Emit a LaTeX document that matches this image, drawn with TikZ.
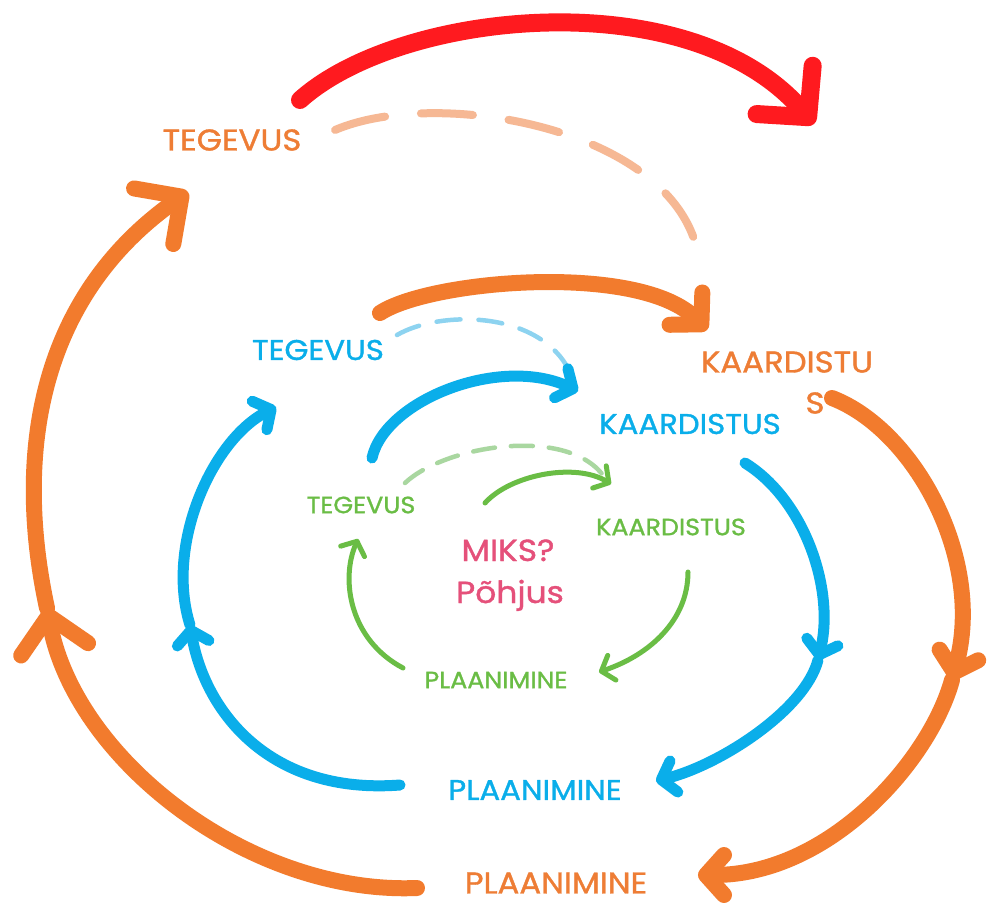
\documentclass[tikz,border=0pt]{standalone}
\usepackage{fontspec}
\setmainfont{Poppins}[FakeStretch=1.08,FakeBold=1.2]
\usetikzlibrary{arrows.meta}
\definecolor{cOr}{HTML}{F27B2D}
\definecolor{cOrT}{HTML}{EE7D35}
\definecolor{cOrL}{HTML}{F6B894}
\definecolor{cRed}{HTML}{FF1A1F}
\definecolor{cBl}{HTML}{0AAEEA}
\definecolor{cBlL}{HTML}{8DD3F0}
\definecolor{cGr}{HTML}{6ABD45}
\definecolor{cGrL}{HTML}{A9D7A0}
\definecolor{cPk}{HTML}{E5507A}
\begin{document}
\begin{tikzpicture}[x=1pt,y=-1pt,line cap=round,line join=round,
  lblOr/.style={text=cOrT,font=\fontsize{30}{30}\selectfont,inner sep=0pt},
  lblBl/.style={text=cBl,font=\fontsize{28.5}{28.5}\selectfont,inner sep=0pt},
  lblGr/.style={text=cGr,font=\fontsize{23.5}{23.5}\selectfont,inner sep=0pt},
  lblPk/.style={text=cPk,font=\fontsize{30.5}{30.5}\selectfont,inner sep=0pt,anchor=base},
  redarc/.style={draw=cRed,line width=18pt,-{Straight Barb[length=36pt,width=74pt,round]}},
  orarc/.style={draw=cOr,line width=16pt},
  orbig/.style={-{Straight Barb[length=34pt,width=68pt,round]}},
  ormid/.style={-{Straight Barb[length=22pt,width=46pt,round]}},
  orsmall/.style={-{Straight Barb[length=18pt,width=40pt,round]}},
  ordash/.style={draw=cOrL,line width=8pt,dash pattern=on 52pt off 36pt},
  blarc/.style={draw=cBl,line width=11pt},
  bltip/.style={-{Straight Barb[length=13pt,width=32pt,round]}},
  bldash/.style={draw=cBlL,line width=4.5pt,dash pattern=on 24pt off 18pt},
  grarc/.style={draw=cGr,line width=5pt},
  grtip/.style={-{Straight Barb[length=11pt,width=26pt,round]}},
  grdash/.style={draw=cGrL,line width=4.5pt,dash pattern=on 22pt off 16pt}]
\useasboundingbox (0,0) rectangle (1005,907);
\fill[white] (0,0) rectangle (1005,907);

% labels
\node[lblOr] (oT) at (232,140) {TEGEVUS};
\node[lblOr] (oK) at (787,362) {KAARDISTU};
\node[lblOr] (oKs) at (815,403) {S};
\node[lblOr] (oP) at (556,883) {PLAANIMINE};
\node[lblBl] (bT) at (318,350) {TEGEVUS};
\node[lblBl] (bK) at (690,424) {KAARDISTUS};
\node[lblBl] (bP) at (535,790) {PLAANIMINE};
\node[lblGr] (gT) at (361,505) {TEGEVUS};
\node[lblGr] (gK) at (671,527) {KAARDISTUS};
\node[lblGr] (gP) at (496,680) {PLAANIMINE};
\node[lblPk] (m1) at (508,561) {MIKS?};
\node[lblPk] (m2) at (510,603) {Põhjus};

% red top arc
\coordinate (r1) at (300,100); \coordinate (r2) at (814,124);
\draw[redarc] (r1) .. controls (400,10) and (690,-20) .. (r2);

% orange dashed
\coordinate (od1) at (335,130); \coordinate (od2) at (700,268);
\draw[ordash] (od1) .. controls (440,85) and (690,130) .. (od2);

% orange middle arc
\coordinate (om1) at (380,313); \coordinate (om2) at (707,330);
\draw[orarc,ormid] (om1) .. controls (430,280) and (640,262) .. (om2);

% orange right arc
\coordinate (or1) at (832,398); \coordinate (orc) at (952,680); \coordinate (or2) at (698,875);
\draw[orarc,orsmall] (or1) .. controls (915,430) and (985,560) .. (orc);
\draw[orarc,orsmall] (orc) .. controls (930,760) and (830,875) .. (or2);

% orange left arc
\coordinate (ol1) at (417,888); \coordinate (olc) at (47,608); \coordinate (ol2) at (188,192);
\draw[orarc,orbig] (ol1) .. controls (250,895) and (75,760) .. (olc);
\draw[orarc,orbig] (olc) .. controls (15,460) and (35,300) .. (ol2);

% blue dashed
\coordinate (bd1) at (397,335); \coordinate (bd2) at (570,372);
\draw[bldash] (bd1) .. controls (440,310) and (540,310) .. (bd2);

% blue top arc
\coordinate (bt1) at (372,458); \coordinate (bt2) at (578,391);
\draw[blarc,bltip] (bt1) .. controls (385,400) and (500,355) .. (bt2);

% blue right arc
\coordinate (br1) at (745,463); \coordinate (brc) at (818,660); \coordinate (br2) at (656,781);
\draw[blarc,bltip] (br1) .. controls (805,500) and (835,590) .. (brc);
\draw[blarc,bltip] (brc) .. controls (805,710) and (720,765) .. (br2);

% blue left arc
\coordinate (bl1) at (400,785); \coordinate (blc) at (190,625); \coordinate (bl2) at (276,407);
\draw[blarc,bltip] (bl1) .. controls (270,795) and (205,712) .. (blc);
\draw[blarc,bltip] (blc) .. controls (165,545) and (212,440) .. (bl2);

% green dashed
\coordinate (gd1) at (405,483); \coordinate (gd2) at (605,478);
\draw[grdash] (gd1) .. controls (445,445) and (570,425) .. (gd2);

% green top arc
\coordinate (gt1) at (485,503); \coordinate (gt2) at (611,484);
\draw[grarc,grtip] (gt1) .. controls (510,475) and (575,462) .. (gt2);

% green left arc
\coordinate (gl1) at (403,668); \coordinate (gl2) at (358,539);
\draw[grarc,grtip] (gl1) .. controls (350,640) and (340,580) .. (gl2);

% green right arc
\coordinate (gr1) at (688,572); \coordinate (gr2) at (599,672);
\draw[grarc,grtip] (gr1) .. controls (688,620) and (650,655) .. (gr2);
\end{tikzpicture}
\end{document}
